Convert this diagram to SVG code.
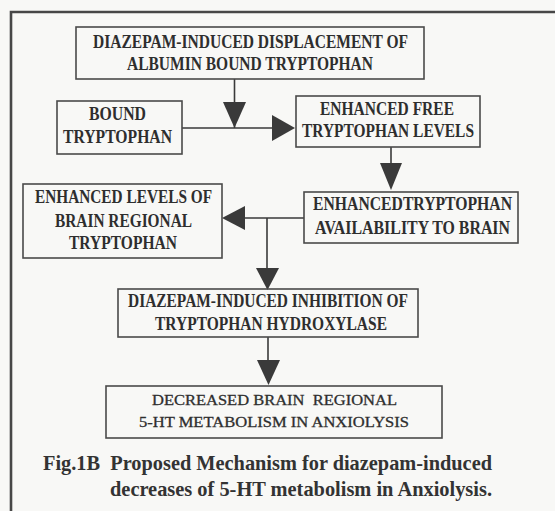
<svg xmlns="http://www.w3.org/2000/svg" width="555" height="511" viewBox="0 0 555 511">
<style>
.box{fill:none;stroke:#4a4a4a;stroke-width:1.6}
.t{font-family:"Liberation Serif","Times New Roman",serif;font-weight:bold;font-size:18px;fill:#2e2e2e}
.s{font-family:"Liberation Serif","Times New Roman",serif;font-size:15px;fill:#2e2e2e;stroke:#2e2e2e;stroke-width:0.3}
.cap{font-family:"Liberation Serif","Times New Roman",serif;font-weight:bold;font-size:22px;fill:#333}
.ln{fill:none;stroke:#3a3a3a;stroke-width:1.6}
.ah{fill:#3a3a3a;stroke:none}
.frame{fill:none;stroke:#474747;stroke-width:2.6}
</style>
<rect x="0" y="0" width="555" height="511" fill="#f8f8f6"/>
<path class="frame" d="M11,511 V12 H555"/>
<g id="connectors">
<path class="ln" d="M234.5,79 V128"/>
<polygon class="ah" points="223,102 246,102 234.5,128"/>
<path class="ln" d="M182,128 H276"/>
<polygon class="ah" points="272,115 272,141 295,128"/>
<path class="ln" d="M391,147 V170"/>
<polygon class="ah" points="380,163 402,163 391,190"/>
<path class="ln" d="M304,218 H240"/>
<polygon class="ah" points="245,206 245,230 222,218"/>
<path class="ln" d="M267,218 V272"/>
<polygon class="ah" points="256,268 279,268 267.5,290"/>
<path class="ln" d="M268,337 V364"/>
<polygon class="ah" points="257,360 280,360 268.5,385"/>
</g>
<g id="n1">
<rect class="box" x="76" y="27" width="348" height="52"/>
<text class="t" x="93" y="48" textLength="315" lengthAdjust="spacingAndGlyphs">DIAZEPAM-INDUCED DISPLACEMENT OF</text>
<text class="t" x="127" y="70" textLength="246" lengthAdjust="spacingAndGlyphs">ALBUMIN BOUND TRYPTOPHAN</text>
</g>
<g id="n2">
<rect class="box" x="57" y="101" width="125" height="53"/>
<text class="t" x="89" y="120" textLength="57" lengthAdjust="spacingAndGlyphs">BOUND</text>
<text class="t" x="63" y="143" textLength="109" lengthAdjust="spacingAndGlyphs">TRYPTOPHAN</text>
</g>
<g id="n3">
<rect class="box" x="296" y="96" width="184" height="51"/>
<text class="t" x="320" y="115" textLength="134" lengthAdjust="spacingAndGlyphs">ENHANCED FREE</text>
<text class="t" x="302" y="137" textLength="172" lengthAdjust="spacingAndGlyphs">TRYPTOPHAN LEVELS</text>
</g>
<g id="n4">
<rect class="box" x="304" y="192" width="214" height="51"/>
<text class="t" x="313" y="210" textLength="199" lengthAdjust="spacingAndGlyphs">ENHANCEDTRYPTOPHAN</text>
<text class="t" x="315" y="234" textLength="195" lengthAdjust="spacingAndGlyphs">AVAILABILITY TO BRAIN</text>
</g>
<g id="n5">
<rect class="box" x="23" y="184" width="199" height="74"/>
<text class="t" x="35" y="203" textLength="177" lengthAdjust="spacingAndGlyphs">ENHANCED LEVELS OF</text>
<text class="t" x="55" y="227" textLength="137" lengthAdjust="spacingAndGlyphs">BRAIN REGIONAL</text>
<text class="t" x="69" y="249" textLength="108" lengthAdjust="spacingAndGlyphs">TRYPTOPHAN</text>
</g>
<g id="n6">
<rect class="box" x="118" y="289" width="300" height="48"/>
<text class="t" x="128" y="307" textLength="280" lengthAdjust="spacingAndGlyphs">DIAZEPAM-INDUCED INHIBITION OF</text>
<text class="t" x="155" y="330" textLength="232" lengthAdjust="spacingAndGlyphs">TRYPTOPHAN HYDROXYLASE</text>
</g>
<g id="n7">
<rect class="box" x="106" y="386" width="336" height="52"/>
<text class="s" x="152" y="405" textLength="245" lengthAdjust="spacingAndGlyphs" xml:space="preserve">DECREASED BRAIN  REGIONAL</text>
<text class="s" x="139" y="427" textLength="270" lengthAdjust="spacingAndGlyphs">5-HT METABOLISM IN ANXIOLYSIS</text>
</g>
<g id="caption">
<text class="cap" x="43" y="470" textLength="449" lengthAdjust="spacingAndGlyphs" xml:space="preserve">Fig.1B  Proposed Mechanism for diazepam-induced</text>
<text class="cap" x="110" y="496" textLength="382" lengthAdjust="spacingAndGlyphs">decreases of 5-HT metabolism in Anxiolysis.</text>
</g>
</svg>
